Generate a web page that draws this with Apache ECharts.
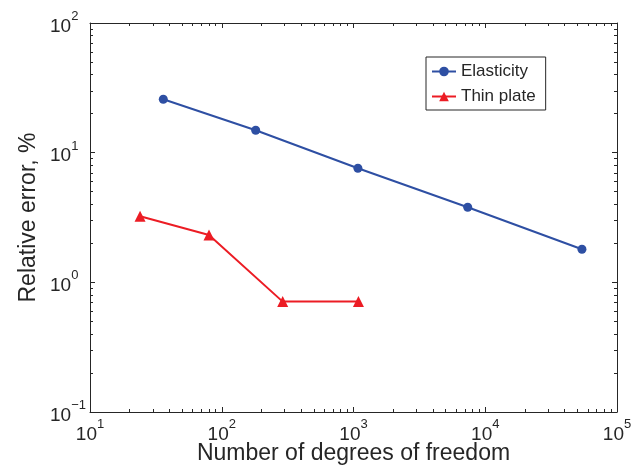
<!DOCTYPE html>
<html>
<head>
<meta charset="utf-8">
<script src="https://cdn.jsdelivr.net/npm/echarts@6/dist/echarts.min.js"></script>
<style>
  html, body { margin: 0; padding: 0; background: #fff; }
  #chart { width: 633px; height: 466px; }
</style>
</head>
<body>
<div id="chart"></div>
<script>
const elasticityDof = [36, 181, 1080, 7360, 54200];
const elasticityErr = [25.8, 14.9, 7.58, 3.79, 1.80];
const plateDof = [24, 80, 290, 1090];
const plateErr = [3.23, 2.32, 0.71, 0.71];

const xMinorTicks = [20, 30, 40, 50, 60, 70, 80, 90, 200, 300, 400, 500, 600, 700, 800, 900,
  2000, 3000, 4000, 5000, 6000, 7000, 8000, 9000, 20000, 30000, 40000, 50000, 60000, 70000, 80000, 90000];
const yMinorTicks = [0.2, 0.3, 0.4, 0.5, 0.6, 0.7, 0.8, 0.9, 2, 3, 4, 5, 6, 7, 8, 9,
  20, 30, 40, 50, 60, 70, 80, 90];

const ink = '#262626';
const font = 'Liberation Sans, Arial, sans-serif';

const chart = echarts.init(document.getElementById('chart'));

function powLabel(v) {
  const e = Math.round(Math.log10(v));
  return '{b|10}{s|' + (e < 0 ? '\u2212' + (-e) : e) + '}';
}
const labelRich = {
  b: { fontSize: 19, fontFamily: font, color: ink, lineHeight: 26, verticalAlign: 'bottom' },
  s: { fontSize: 13, fontFamily: font, color: ink, lineHeight: 26, verticalAlign: 'top' }
};

function axis(kind, pos, minor, extra) {
  const isX = kind === 'x';
  return Object.assign({
    type: 'log',
    logBase: 10,
    min: isX ? 10 : 0.1,
    max: isX ? 100000 : 100,
    position: pos,
    splitLine: { show: false },
    axisLine: { show: !minor, onZero: false, lineStyle: { color: ink, width: 1 } },
    axisTick: minor
      ? { show: true, inside: true, length: 3, lineStyle: { color: ink }, customValues: isX ? xMinorTicks : yMinorTicks }
      : { show: true, inside: true, length: 5, lineStyle: { color: ink } },
    axisLabel: { show: false }
  }, extra || {});
}

chart.setOption({
  animation: false,
  backgroundColor: '#fff',
  grid: { left: 90, top: 23, right: 16, bottom: 54, outerBoundsMode: 'none' },
  legend: {
    orient: 'vertical',
    left: 426,
    top: 57,
    padding: [6, 10, 5, 5],
    itemGap: 8,
    itemWidth: 24,
    itemHeight: 12,
    borderColor: ink,
    borderWidth: 1,
    textStyle: { fontSize: 17, fontFamily: font, color: ink },
    data: ['Elasticity', 'Thin plate']
  },
  xAxis: [
    axis('x', 'bottom', false, {
      name: 'Number of degrees of freedom',
      nameLocation: 'middle',
      nameGap: 30,
      nameMoveOverlap: false,
      nameTextStyle: { fontSize: 23, fontFamily: font, color: ink },
      axisLabel: { show: true, margin: 6, formatter: powLabel, rich: labelRich }
    }),
    axis('x', 'bottom', true),
    axis('x', 'top', false),
    axis('x', 'top', true)
  ],
  yAxis: [
    axis('y', 'left', false, {
      name: 'Relative error, %',
      nameLocation: 'middle',
      nameGap: 50,
      nameMoveOverlap: false,
      nameTextStyle: { fontSize: 23, fontFamily: font, color: ink },
      axisLabel: { show: true, margin: 40, align: 'left', formatter: powLabel, rich: labelRich }
    }),
    axis('y', 'left', true),
    axis('y', 'right', false),
    axis('y', 'right', true)
  ],
  series: [
    {
      name: 'Elasticity',
      type: 'line',
      data: elasticityDof.map((x, i) => [x, elasticityErr[i]]),
      symbol: 'circle',
      symbolSize: 9,
      color: '#2E4FA3',
      lineStyle: { width: 2 },
      itemStyle: { color: '#2E4FA3' }
    },
    {
      name: 'Thin plate',
      type: 'line',
      data: plateDof.map((x, i) => [x, plateErr[i]]),
      symbol: 'triangle',
      symbolSize: 11,
      color: '#EC1C24',
      lineStyle: { width: 2 },
      itemStyle: { color: '#EC1C24' }
    }
  ]
});
</script>
</body>
</html>
